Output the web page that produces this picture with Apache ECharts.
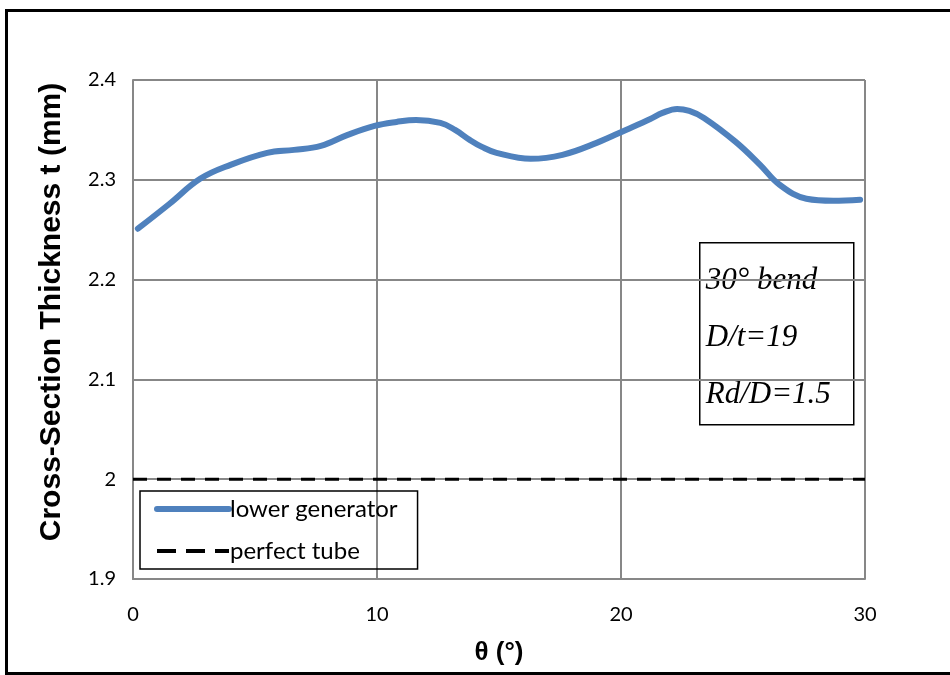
<!DOCTYPE html>
<html>
<head>
<meta charset="utf-8">
<script src="https://cdn.jsdelivr.net/npm/echarts@6/dist/echarts.min.js"></script>
<style>
  html, body { margin: 0; padding: 0; background: #fff; }
  #chart { width: 950px; height: 675px; }
</style>
</head>
<body>
<div id="chart"></div>
<script>
// angle along the bend (deg) and measured thickness (mm)
var theta = [0.2, 1.5, 2.75, 4, 5.5, 6.6, 7.7, 8.8, 9.9, 10.8, 11.6, 12.6, 13.2, 13.8, 14.3, 14.9, 16.3,
             17.6, 19.0, 20.2, 21.2, 21.7, 22.3, 22.8, 23.4, 24.7, 25.7, 26.5, 27.6, 28.7, 29.8];
var lowerGen = [2.251, 2.276, 2.301, 2.315, 2.327, 2.330, 2.334, 2.345, 2.354, 2.358, 2.360, 2.357, 2.350, 2.340, 2.333, 2.327, 2.321,
                2.325, 2.337, 2.350, 2.361, 2.367, 2.371, 2.369, 2.362, 2.338, 2.315, 2.295, 2.281, 2.279, 2.280];
var perfectX = [0, 30];
var perfectY = [2, 2];
var noteLines = ['30° bend', 'D/t=19', 'Rd/D=1.5'];
var yTitle = 'Cross-Section Thickness t (mm)';

var myChart = echarts.init(document.getElementById('chart'));

function pairs(xs, ys) {
    var out = [];
    for (var i = 0; i < xs.length; i++) out.push([xs[i], ys[i]]);
    return out;
}

var gridColor = '#878787';
var labelFont = 'Lato, "Open Sans", sans-serif';

var option = {
    animation: false,
    grid: { left: 133, right: 85, top: 80, bottom: 96 },
    xAxis: {
        type: 'value', min: 0, max: 30, interval: 10,
        name: 'θ (°)', nameLocation: 'middle', nameGap: 61,
        nameTextStyle: { fontSize: 26, fontWeight: 'bold', color: '#000', fontFamily: '"Liberation Sans", Arial, sans-serif' },
        axisLine: { lineStyle: { color: gridColor, width: 2 } },
        axisTick: { show: false },
        axisLabel: { fontSize: 20, color: '#000', margin: 26, fontFamily: labelFont },
        splitLine: { lineStyle: { color: gridColor, width: 2 } }
    },
    yAxis: {
        type: 'value', min: 1.9, max: 2.4, interval: 0.1,
        axisLine: { show: true, lineStyle: { color: gridColor, width: 2 } },
        axisTick: { show: false },
        axisLabel: { fontSize: 20, color: '#000', margin: 17, fontFamily: labelFont },
        splitLine: { lineStyle: { color: gridColor, width: 2 } }
    },
    legend: {
        orient: 'vertical', left: 140, top: 491,
        borderColor: '#000', borderWidth: 1.5,
        padding: [6, 20, 6, 14],
        itemWidth: 72, itemHeight: 20, itemGap: 18,
        itemStyle: { opacity: 0 },
        textStyle: { fontSize: 24, color: '#000', fontFamily: labelFont, padding: [0, 0, 0, -4] },
        data: [
            { name: 'lower generator', lineStyle: { width: 6 } },
            { name: 'perfect tube', lineStyle: { width: 4, type: [19, 10] } }
        ]
    },
    series: [
        {
            name: 'lower generator', type: 'line', smooth: 0.4, symbol: 'none',
            data: pairs(theta, lowerGen),
            lineStyle: { color: '#4f81bd', width: 6, cap: 'round' },
            itemStyle: { color: '#4f81bd' }
        },
        {
            name: 'perfect tube', type: 'line', symbol: 'none',
            data: pairs(perfectX, perfectY),
            lineStyle: { color: '#000', width: 3, type: [14, 10] },
            itemStyle: { color: '#000' }
        }
    ],
    graphic: [
        {
            type: 'rect', left: 4, top: 8, silent: true,
            shape: { width: 950, height: 663 },
            style: { fill: 'none', stroke: '#000', lineWidth: 3 }
        },
        {
            type: 'text', x: 52, y: 312, rotation: Math.PI / 2,
            style: {
                text: yTitle, align: 'center', verticalAlign: 'middle',
                font: 'bold 30px "Liberation Sans", Arial, sans-serif', fill: '#000'
            }
        },
        {
            type: 'group', left: 699, top: 242,
            children: [
                { type: 'rect', shape: { width: 154, height: 182 },
                  style: { fill: '#fff', stroke: '#000', lineWidth: 1.5 } }
            ].concat(noteLines.map(function (t, i) {
                return {
                    type: 'text', left: 6, top: 23 + i * 57,
                    style: { text: t, font: 'italic 31px "Liberation Serif", "Times New Roman", serif', fill: '#000' }
                };
            }))
        }
    ]
};

myChart.setOption(option);
</script>
</body>
</html>
